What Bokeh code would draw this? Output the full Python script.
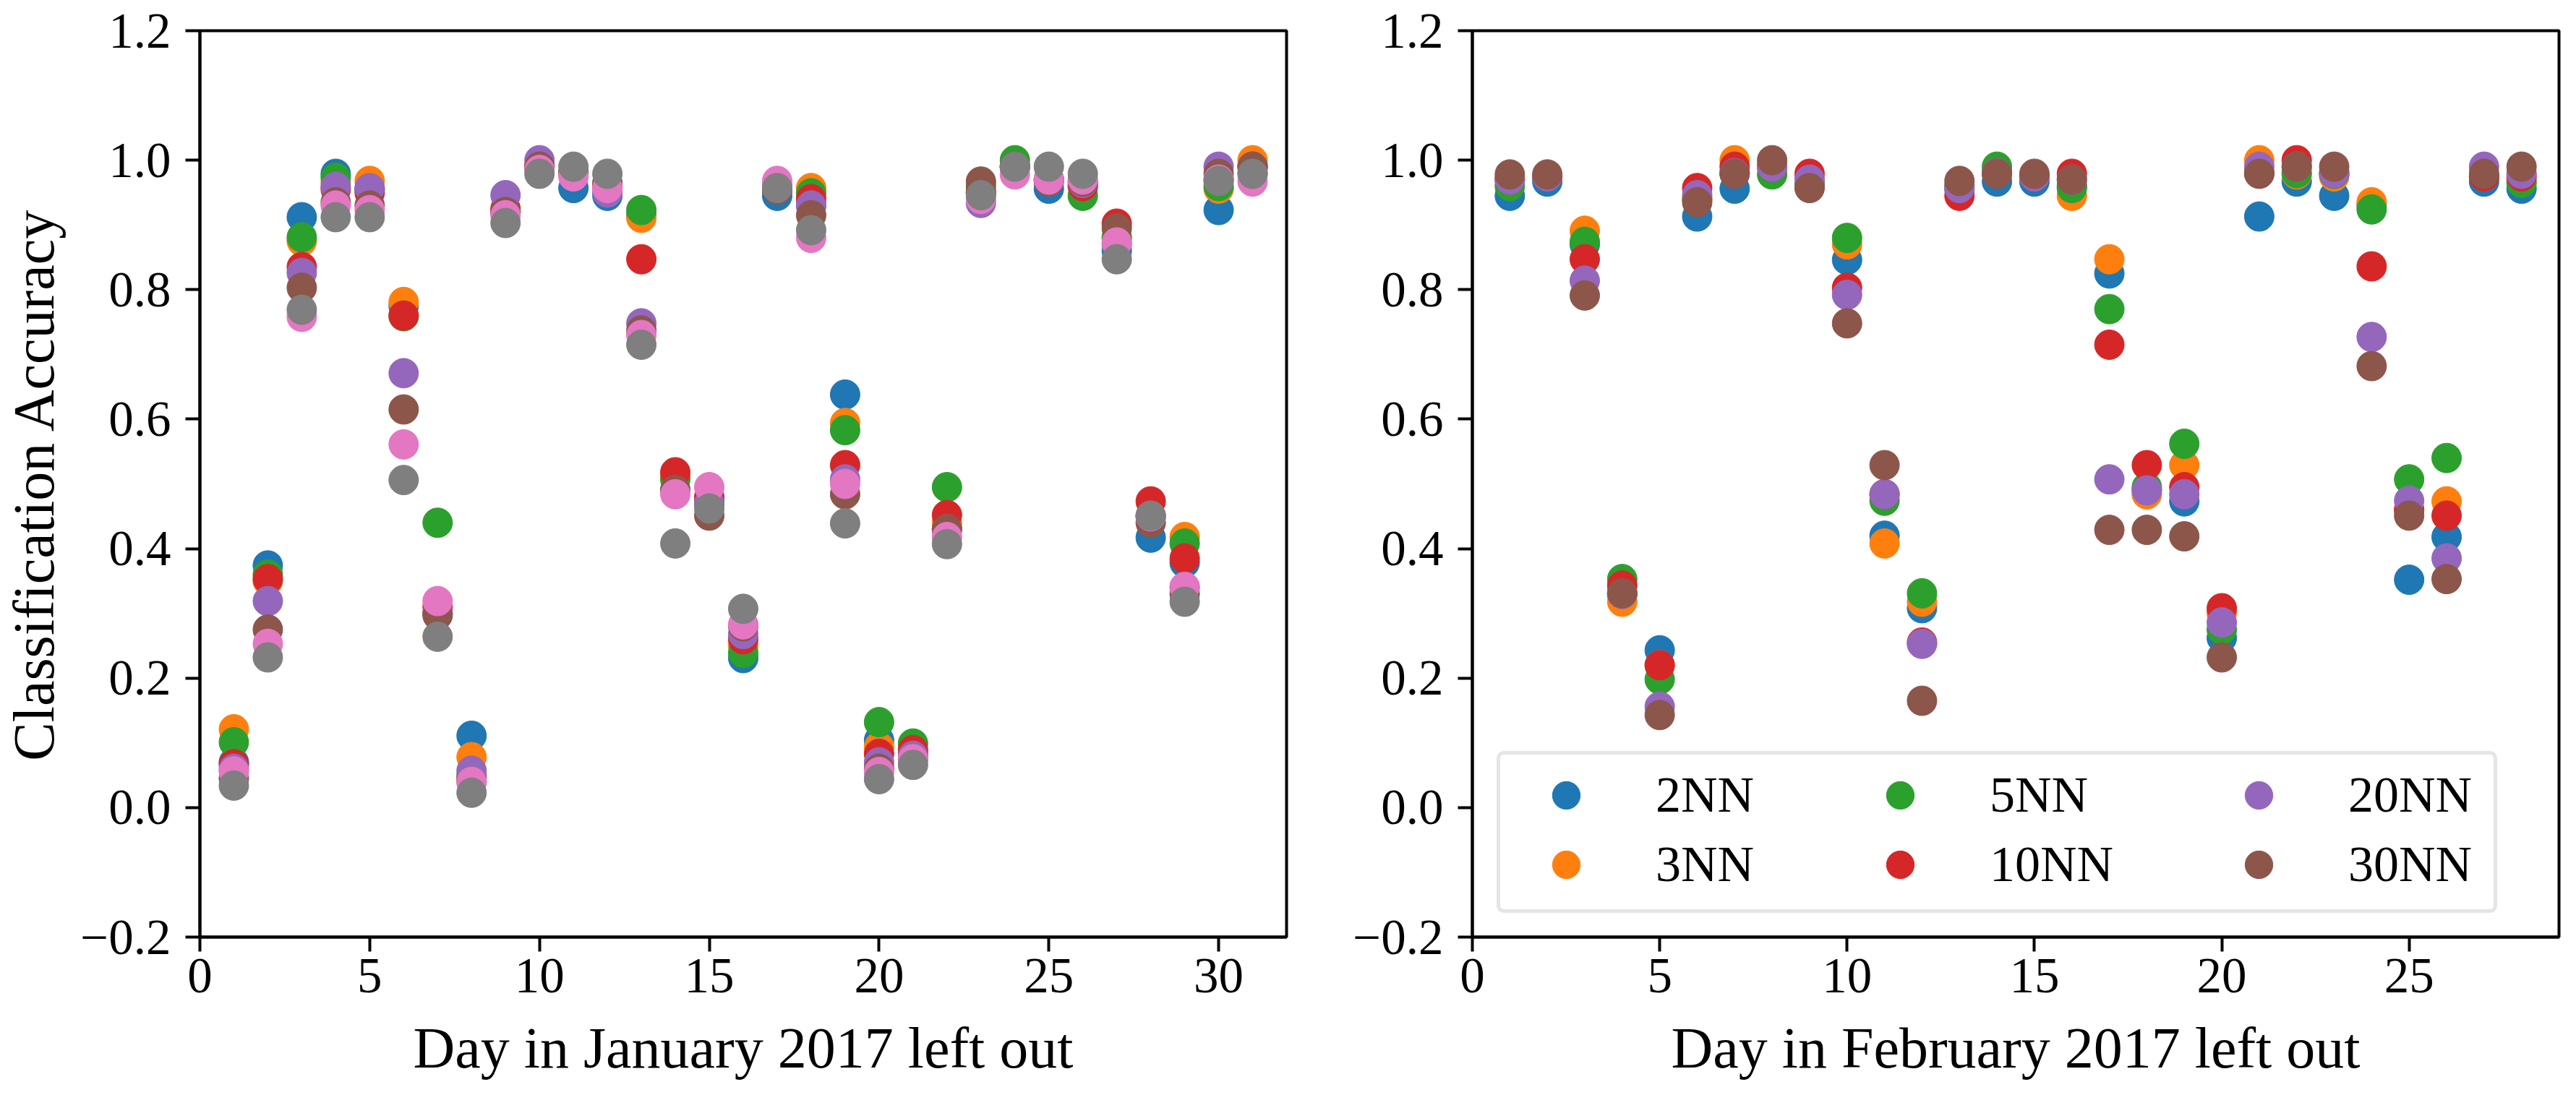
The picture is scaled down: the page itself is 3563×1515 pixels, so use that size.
from bokeh.plotting import figure
from bokeh.models import (ColumnDataSource, Range1d, FixedTicker, CustomJSTickFormatter,
                          Legend, LegendItem)
from bokeh.layouts import row
from bokeh.embed import file_html
from bokeh.resources import INLINE

# ---------------- data ----------------
jan_days = list(range(1, 32))
feb_days = list(range(1, 29))

series_names = ["2NN", "3NN", "5NN", "10NN", "20NN", "30NN"]
series_colors = ["#1f77b4", "#ff7f0e", "#2ca02c", "#d62728", "#9467bd", "#8c564b"]
extra_colors = ["#e377c2", "#7f7f7f"]

jan_2nn = [.07, .374, .912, .979, .955, .775, .30, .111, .92, .99, .957, .945, .915, .49, .475, .231,
           .945, .93, .638, .104, .085, .43, .95, .99, .956, .96, .86, .417, .378, .923, .98]
jan_3nn = [.121, .35, .875, .965, .968, .781, .30, .078, .92, .99, .98, .96, .911, .51, .47, .25,
           .955, .957, .594, .094, .085, .44, .95, .99, .97, .96, .88, .45, .418, .956, 1.0]
jan_5nn = [.101, .36, .881, .973, .955, .759, .44, .05, .92, .99, .98, .96, .923, .507, .47, .239,
           .955, .949, .583, .132, .099, .495, .96, 1.0, .97, .945, .88, .45, .408, .96, .99]
jan_10nn = [.067, .353, .835, .955, .95, .76, .31, .045, .925, .99, .98, .96, .847, .518, .48, .26,
            .955, .94, .529, .083, .089, .452, .95, .99, .97, .96, .902, .473, .385, .97, .99]
jan_20nn = [.06, .319, .826, .959, .957, .671, .30, .057, .946, 1.0, .979, .95, .748, .49, .47, .268,
            .96, .93, .507, .07, .08, .43, .934, .99, .97, .965, .87, .45, .34, .99, .99]
jan_30nn = [.045, .275, .803, .935, .93, .615, .297, .04, .92, .99, .98, .965, .737, .49, .451, .28,
            .955, .915, .484, .06, .075, .43, .967, .99, .967, .967, .895, .44, .33, .979, .99]
jan_series7 = [.056, .253, .758, .93, .923, .561, .319, .04, .915, .985, .975, .957, .73, .484, .495, .283,
               .968, .88, .50, .055, .075, .418, .94, .978, .97, .97, .873, .45, .341, .97, .967]
jan_series8 = [.034, .232, .769, .912, .912, .506, .264, .023, .903, .979, .99, .979, .715, .408, .462, .307,
               .957, .892, .439, .044, .066, .407, .946, .99, .99, .979, .847, .451, .318, .968, .979]

feb_2nn = [.945, .967, .87, .33, .243, .913, .956, .99, .96, .846, .42, .308, .955, .967, .967, .96,
           .825, .49, .473, .262, .913, .967, .945, .93, .352, .418, .967, .956]
feb_3nn = [.97, .975, .891, .318, .22, .94, 1.0, .99, .965, .87, .408, .318, .96, .98, .975, .945,
           .847, .484, .529, .30, 1.0, .978, .975, .935, .46, .473, .975, .97]
feb_5nn = [.96, .975, .874, .353, .198, .94, .98, .978, .965, .88, .474, .331, .96, .99, .975, .957,
           .77, .495, .562, .275, .98, .98, .979, .924, .507, .54, .975, .965]
feb_10nn = [.97, .975, .847, .343, .22, .957, .99, .99, .979, .803, .484, .255, .945, .98, .975, .979,
            .715, .529, .495, .308, .98, 1.0, .98, .836, .46, .451, .975, .975]
feb_20nn = [.97, .975, .814, .33, .156, .946, .98, .99, .97, .792, .484, .253, .957, .98, .975, .97,
            .507, .49, .484, .286, .99, .99, .98, .727, .474, .385, .99, .979]
feb_30nn = [.978, .978, .791, .331, .143, .935, .979, 1.0, .957, .748, .529, .165, .968, .979, .979, .97,
            .429, .429, .419, .232, .979, .99, .99, .682, .451, .353, .979, .99]

jan_values = [jan_2nn, jan_3nn, jan_5nn, jan_10nn, jan_20nn, jan_30nn, jan_series7, jan_series8]
jan_colors = series_colors + extra_colors
feb_values = [feb_2nn, feb_3nn, feb_5nn, feb_10nn, feb_20nn, feb_30nn]

jan_xticks = [0, 5, 10, 15, 20, 25, 30]
feb_xticks = [0, 5, 10, 15, 20, 25]
y_ticks = [-0.2, 0.0, 0.2, 0.4, 0.6, 0.8, 1.0, 1.2]

FONT = "Liberation Serif"
TICK_SIZE = "69px"
LABEL_SIZE = "80px"
MARKER = 41

yfmt_code = "return (tick < -1e-9 ? '\u2212' : '') + Math.abs(tick).toFixed(1);"


def style(p, xticks, xlabel, ylabel=None):
    p.xgrid.visible = False
    p.ygrid.visible = False
    p.outline_line_color = "black"
    p.outline_line_width = 4
    p.background_fill_color = "white"
    p.border_fill_color = "white"
    p.xaxis.ticker = FixedTicker(ticks=xticks)
    p.yaxis.ticker = FixedTicker(ticks=y_ticks)
    p.yaxis.formatter = CustomJSTickFormatter(code=yfmt_code)
    for ax in (p.xaxis[0], p.yaxis[0]):
        ax.axis_line_width = 4
        ax.axis_line_color = "black"
        ax.major_tick_line_width = 4
        ax.major_tick_line_color = "black"
        ax.major_tick_in = 0
        ax.major_tick_out = 20
        ax.minor_tick_in = 0
        ax.minor_tick_out = 0
        ax.major_label_text_font = FONT
        ax.major_label_text_font_size = TICK_SIZE
        ax.major_label_text_color = "black"
        ax.axis_label_text_font = FONT
        ax.axis_label_text_font_size = LABEL_SIZE
        ax.axis_label_text_font_style = "normal"
        ax.axis_label_text_color = "black"
    p.xaxis.major_label_standoff = 10
    p.yaxis.major_label_standoff = 20
    p.xaxis.axis_label = xlabel
    p.xaxis.axis_label_standoff = 30
    if ylabel:
        p.yaxis.axis_label = ylabel
        p.yaxis.axis_label_standoff = 17


FRAME_W = 1503
FRAME_H = 1254
TOP = 42
BOTTOM = 203

# ---------------- left: January ----------------
p1 = figure(frame_width=FRAME_W, frame_height=FRAME_H, x_range=Range1d(0, 32), y_range=Range1d(-0.2, 1.2),
            output_backend="svg", toolbar_location=None,
            min_border_left=272, min_border_right=20, min_border_top=TOP, min_border_bottom=BOTTOM)
style(p1, jan_xticks, "Day in January 2017 left out", "Classification Accuracy")
for vals, col in zip(jan_values, jan_colors):
    src = ColumnDataSource(dict(x=jan_days, y=vals))
    p1.scatter("x", "y", source=src, size=MARKER, fill_color=col, line_color=col)

# ---------------- right: February ----------------
p2 = figure(frame_width=FRAME_W, frame_height=FRAME_H, x_range=Range1d(0, 29), y_range=Range1d(-0.2, 1.2),
            output_backend="svg", toolbar_location=None,
            min_border_left=237, min_border_right=10, min_border_top=TOP, min_border_bottom=BOTTOM)
style(p2, feb_xticks, "Day in February 2017 left out")
feb_renderers = []
for vals, col in zip(feb_values, series_colors):
    src = ColumnDataSource(dict(x=feb_days, y=vals))
    r = p2.scatter("x", "y", source=src, size=MARKER, fill_color=col, line_color=col)
    feb_renderers.append(r)

# legend frame (an empty, invisible item that only carries the rounded grey frame)
dummy = p2.scatter(x=[], y=[], fill_alpha=0, line_alpha=0)
frame = Legend(items=[LegendItem(label=" ", renderers=[dummy])], location=(34, 33),
               padding=0, margin=0, spacing=0, glyph_width=1300, glyph_height=214,
               label_standoff=0, label_width=74, label_height=10, label_text_font_size="10px",
               border_line_color="#cccccc", border_line_width=5, background_fill_color="white",
               background_fill_alpha=0.8)
if "border_radius" in Legend.properties():
    frame.border_radius = 10
p2.add_layout(frame, "center")

col_offsets = [82, 544, 1040]
for ci, xoff in enumerate(col_offsets):
    items = [LegendItem(label=series_names[k], renderers=[feb_renderers[k]]) for k in (2 * ci, 2 * ci + 1)]
    lg = Legend(items=items, location=(xoff, 52), orientation="vertical",
                padding=0, margin=0, spacing=0, glyph_width=96, glyph_height=96,
                label_standoff=76, label_height=96, label_text_font=FONT,
                label_text_font_size="70px", label_text_color="black",
                border_line_alpha=0, background_fill_alpha=0)
    p2.add_layout(lg, "center")

layout = row(p1, p2)
open("out.html", "w").write(file_html(layout, INLINE))
